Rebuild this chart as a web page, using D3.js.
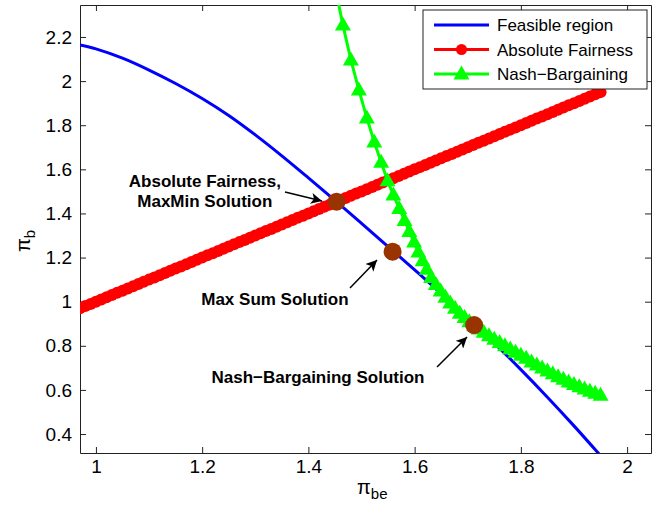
<!DOCTYPE html>
<html>
<head>
<meta charset="utf-8">
<script src="https://cdn.jsdelivr.net/npm/d3@7"></script>
<style>
  body { margin: 0; background: #fff; }
  svg { display: block; }
  text { font-family: "Liberation Sans", Arial, Helvetica, sans-serif; }
</style>
</head>
<body>
<svg id="chart" width="668" height="505"></svg>
<script>
// values
var feasibleX = [0.97, 1.00, 1.05, 1.10, 1.15, 1.20, 1.25, 1.30, 1.35, 1.40, 1.45, 1.50, 1.55, 1.60, 1.65, 1.70, 1.75, 1.80, 1.85, 1.90, 1.95];
var feasibleY = [2.164, 2.146, 2.104, 2.050, 1.989, 1.921, 1.844, 1.756, 1.661, 1.561, 1.459, 1.355, 1.250, 1.144, 1.037, 0.927, 0.812, 0.692, 0.567, 0.437, 0.302];

var fairX = [0.97, 0.98, 0.99, 1.00, 1.01, 1.02, 1.03, 1.04, 1.05, 1.06, 1.07, 1.08, 1.09, 1.10, 1.11, 1.12, 1.13, 1.14, 1.15, 1.16, 1.17, 1.18, 1.19, 1.20, 1.21, 1.22, 1.23, 1.24, 1.25, 1.26, 1.27, 1.28, 1.29, 1.30, 1.31, 1.32, 1.33, 1.34, 1.35, 1.36, 1.37, 1.38, 1.39, 1.40, 1.41, 1.42, 1.43, 1.44, 1.45, 1.46, 1.47, 1.48, 1.49, 1.50, 1.51, 1.52, 1.53, 1.54, 1.55, 1.56, 1.57, 1.58, 1.59, 1.60, 1.61, 1.62, 1.63, 1.64, 1.65, 1.66, 1.67, 1.68, 1.69, 1.70, 1.71, 1.72, 1.73, 1.74, 1.75, 1.76, 1.77, 1.78, 1.79, 1.80, 1.81, 1.82, 1.83, 1.84, 1.85, 1.86, 1.87, 1.88, 1.89, 1.90, 1.91, 1.92, 1.93, 1.94, 1.95];
var fairY = [0.97, 0.98, 0.99, 1.00, 1.01, 1.02, 1.03, 1.04, 1.05, 1.06, 1.07, 1.08, 1.09, 1.10, 1.11, 1.12, 1.13, 1.14, 1.15, 1.16, 1.17, 1.18, 1.19, 1.20, 1.21, 1.22, 1.23, 1.24, 1.25, 1.26, 1.27, 1.28, 1.29, 1.30, 1.31, 1.32, 1.33, 1.34, 1.35, 1.36, 1.37, 1.38, 1.39, 1.40, 1.41, 1.42, 1.43, 1.44, 1.45, 1.46, 1.47, 1.48, 1.49, 1.50, 1.51, 1.52, 1.53, 1.54, 1.55, 1.56, 1.57, 1.58, 1.59, 1.60, 1.61, 1.62, 1.63, 1.64, 1.65, 1.66, 1.67, 1.68, 1.69, 1.70, 1.71, 1.72, 1.73, 1.74, 1.75, 1.76, 1.77, 1.78, 1.79, 1.80, 1.81, 1.82, 1.83, 1.84, 1.85, 1.86, 1.87, 1.88, 1.89, 1.90, 1.91, 1.92, 1.93, 1.94, 1.95];

var nashX = [1.450, 1.465, 1.480, 1.495, 1.510, 1.524, 1.537, 1.549, 1.560, 1.571, 1.581, 1.590, 1.599, 1.607, 1.615, 1.623, 1.631, 1.640, 1.649, 1.658, 1.667, 1.676, 1.685, 1.694, 1.703, 1.712, 1.721, 1.730, 1.740, 1.750, 1.760, 1.770, 1.780, 1.790, 1.800, 1.810, 1.820, 1.830, 1.840, 1.850, 1.860, 1.870, 1.880, 1.890, 1.900, 1.910, 1.920, 1.930, 1.940, 1.950];
var nashY = [2.430, 2.254, 2.096, 1.960, 1.833, 1.724, 1.632, 1.548, 1.484, 1.423, 1.368, 1.318, 1.270, 1.225, 1.185, 1.147, 1.110, 1.078, 1.048, 1.020, 0.994, 0.970, 0.948, 0.928, 0.909, 0.892, 0.876, 0.861, 0.845, 0.830, 0.815, 0.800, 0.785, 0.771, 0.757, 0.743, 0.727, 0.713, 0.699, 0.686, 0.673, 0.660, 0.648, 0.636, 0.625, 0.614, 0.604, 0.594, 0.585, 0.576];

var solutionX = [1.453, 1.5585, 1.712];
var solutionY = [1.4535, 1.2267, 0.894];

var xTicks = [1, 1.2, 1.4, 1.6, 1.8, 2];
var yTicks = [0.4, 0.6, 0.8, 1, 1.2, 1.4, 1.6, 1.8, 2, 2.2];

var legendNames = ["Feasible region", "Absolute Fairness", "Nash\u2212Bargaining"];

// annotation text and arrows, in data units
var notes = [
  { lines: ["Absolute Fairness,", "MaxMin Solution"], x: 1.205, y: 1.520, ax: 1.356, ay: 1.497, bx: 1.4256, by: 1.4566 },
  { lines: ["Max Sum Solution"], x: 1.337, y: 0.985, ax: 1.4783, ay: 1.0622, bx: 1.5292, by: 1.1891 },
  { lines: ["Nash\u2212Bargaining Solution"], x: 1.418, y: 0.632, ax: 1.6422, ay: 0.7041, bx: 1.6987, by: 0.840 }
];

var margin = {top: 5, right: 17, bottom: 52, left: 80};
var width = 668 - margin.left - margin.right;
var height = 505 - margin.top - margin.bottom;

var x = d3.scaleLinear().domain([0.97, 2.045]).range([0, width]);
var y = d3.scaleLinear().domain([0.314, 2.345]).range([height, 0]);

var svg = d3.select("#chart");
var defs = svg.append("defs");
defs.append("clipPath").attr("id", "plotClip")
  .append("rect").attr("width", width).attr("height", height);
defs.append("marker")
  .attr("id", "arrow")
  .attr("viewBox", "0 0 10 10")
  .attr("refX", 10).attr("refY", 5)
  .attr("markerWidth", 11).attr("markerHeight", 11)
  .attr("markerUnits", "userSpaceOnUse")
  .attr("orient", "auto")
  .append("path").attr("d", "M0,0 L10,5 L0,10 L2.5,5 Z").attr("fill", "#000");

var g = svg.append("g").attr("transform", "translate(" + margin.left + "," + margin.top + ")");

// axes (ticks point inward, box all round)
function styleAxis(sel) {
  sel.selectAll("path").attr("stroke", "#222").attr("stroke-width", 1);
  sel.selectAll("line").attr("stroke", "#222").attr("stroke-width", 1);
  sel.selectAll("text").attr("fill", "#000").style("font-size", "19px");
}
g.append("g").attr("transform", "translate(0," + height + ")")
  .call(d3.axisBottom(x).tickValues(xTicks).tickFormat(function(d){ return String(d); })
    .tickSizeInner(-6).tickSizeOuter(0).tickPadding(7))
  .call(styleAxis);
g.append("g")
  .call(d3.axisTop(x).tickValues(xTicks).tickFormat("").tickSizeInner(-6).tickSizeOuter(0))
  .call(styleAxis);
g.append("g")
  .call(d3.axisLeft(y).tickValues(yTicks).tickFormat(function(d){ return String(d); })
    .tickSizeInner(-6).tickSizeOuter(0).tickPadding(8))
  .call(styleAxis);
g.append("g").attr("transform", "translate(" + width + ",0)")
  .call(d3.axisRight(y).tickValues(yTicks).tickFormat("").tickSizeInner(-6).tickSizeOuter(0))
  .call(styleAxis);

var plot = g.append("g").attr("clip-path", "url(#plotClip)");

function pairs(xs, ys) {
  return xs.map(function(v, i){ return [v, ys[i]]; });
}

var line = d3.line().x(function(d){ return x(d[0]); }).y(function(d){ return y(d[1]); });

// feasible region
plot.append("path")
  .datum(pairs(feasibleX, feasibleY))
  .attr("d", line.curve(d3.curveCatmullRom))
  .attr("fill", "none").attr("stroke", "#0000ff").attr("stroke-width", 3);

line.curve(d3.curveLinear);

// absolute fairness
var fair = pairs(fairX, fairY);
plot.append("path").datum(fair).attr("d", line)
  .attr("fill", "none").attr("stroke", "#ff0000").attr("stroke-width", 3);
plot.selectAll(".fair").data(fair).enter().append("circle")
  .attr("cx", function(d){ return x(d[0]); })
  .attr("cy", function(d){ return y(d[1]); })
  .attr("r", 6).attr("fill", "#ff0000");

// nash bargaining
var tri = "M0,-8.5 L8,5.5 L-8,5.5 Z";
var nash = pairs(nashX, nashY);
plot.append("path").datum(nash).attr("d", line)
  .attr("fill", "none").attr("stroke", "#00ff00").attr("stroke-width", 3);
plot.selectAll(".nash").data(nash).enter().append("path")
  .attr("d", tri)
  .attr("transform", function(d){ return "translate(" + x(d[0]) + "," + y(d[1]) + ")"; })
  .attr("fill", "#00ff00");

// solution points
plot.selectAll(".sol").data(pairs(solutionX, solutionY)).enter().append("circle")
  .attr("cx", function(d){ return x(d[0]); })
  .attr("cy", function(d){ return y(d[1]); })
  .attr("r", 9).attr("fill", "#993300");

// annotations
notes.forEach(function(n){
  var t = g.append("text")
    .attr("x", x(n.x)).attr("y", y(n.y))
    .attr("text-anchor", "middle")
    .style("font-size", "17px").style("font-weight", "bold");
  n.lines.forEach(function(s, i){
    t.append("tspan").attr("x", x(n.x)).attr("dy", i === 0 ? 0 : 20).text(s);
  });
  g.append("line")
    .attr("x1", x(n.ax)).attr("y1", y(n.ay))
    .attr("x2", x(n.bx)).attr("y2", y(n.by))
    .attr("stroke", "#000").attr("stroke-width", 1.5)
    .attr("marker-end", "url(#arrow)");
});

// axis labels
var xl = svg.append("text").attr("x", 357).attr("y", 494).style("font-size", "20px");
xl.append("tspan").text("\u03c0");
xl.append("tspan").attr("dy", 5).style("font-size", "15px").text("be");

var yl = svg.append("text").attr("transform", "translate(30,252) rotate(-90)").style("font-size", "20px");
yl.append("tspan").text("\u03c0");
yl.append("tspan").attr("dy", 5).style("font-size", "15px").text("b");

// legend
var leg = svg.append("g").attr("transform", "translate(423,10)");
leg.append("rect").attr("width", 224).attr("height", 79)
  .attr("fill", "#fff").attr("stroke", "#222").attr("stroke-width", 1);
var legColors = ["#0000ff", "#ff0000", "#00ff00"];
legendNames.forEach(function(name, i){
  var row = leg.append("g").attr("transform", "translate(0," + (15 + i * 24.5) + ")");
  row.append("line").attr("x1", 11).attr("x2", 66)
    .attr("stroke", legColors[i]).attr("stroke-width", 3);
  if (i === 1) row.append("circle").attr("cx", 38.5).attr("r", 5.5).attr("fill", legColors[i]);
  if (i === 2) row.append("path").attr("d", tri).attr("transform", "translate(38.5,0)").attr("fill", legColors[i]);
  row.append("text").attr("x", 74).attr("y", 6).style("font-size", "17px").text(name);
});
</script>
</body>
</html>
